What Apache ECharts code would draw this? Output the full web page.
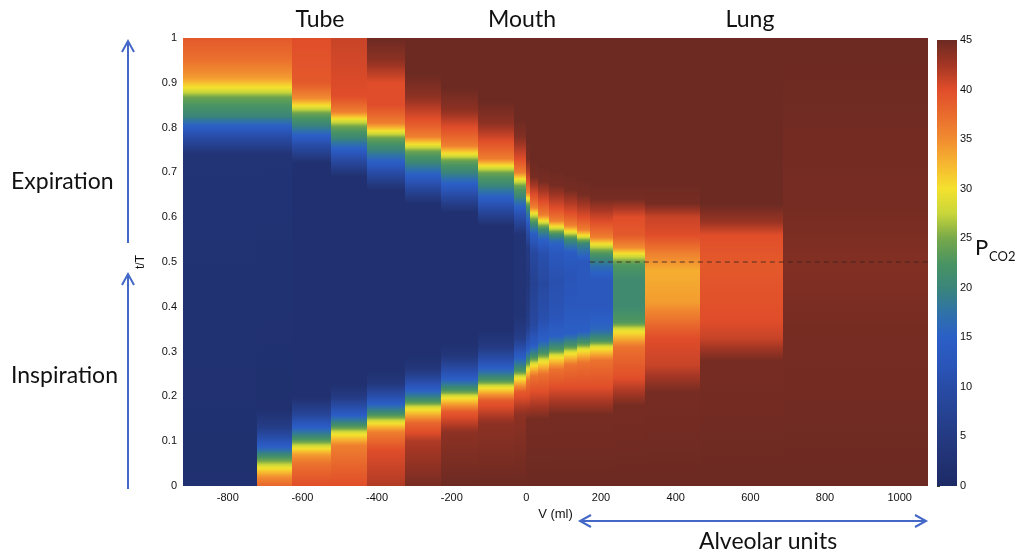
<!DOCTYPE html>
<html>
<head>
<meta charset="utf-8">
<script src="https://cdn.jsdelivr.net/npm/echarts@6/dist/echarts.min.js"></script>
<style>
html,body{margin:0;padding:0;background:#fff;}
#c{width:1027px;height:556px;}
</style>
</head>
<body>
<div id="c"></div>
<script>
// ---- DATA ----
// Column boundaries along V (ml)
const vEdges = [-920, -722, -628, -523, -427, -325, -228, -130, -32, 0, 10, 30, 60, 100, 135, 170, 231, 317, 464, 687, 1076];
// Vertical P_CO2 profile of every column: [t/T, PCO2] stops
const profiles = [
  [[0,2],[0.74,3],[0.79,12],[0.825,20],[0.865,24],[0.885,29],[0.91,34],[0.95,37],[1,39]],
  [[0,38],[0.02,35],[0.043,29],[0.065,22],[0.09,14],[0.13,6],[0.17,2],[0.74,3],[0.79,12],[0.825,20],[0.865,24],[0.885,29],[0.91,34],[0.95,37],[1,39]],
  [[0,40],[0.05,37],[0.07,34],[0.087,29],[0.105,22],[0.13,15],[0.16,8],[0.2,2],[0.72,2],[0.77,12],[0.8,19],[0.83,24],[0.846,29],[0.865,35],[0.9,39],[1,40]],
  [[0,40],[0.09,36],[0.118,29],[0.135,22],[0.16,14],[0.2,5],[0.23,2],[0.69,2],[0.74,12],[0.775,20],[0.8,24],[0.817,29],[0.835,36],[0.87,40],[1,41]],
  [[0,42],[0.08,40],[0.12,36],[0.143,29],[0.16,22],[0.19,13],[0.23,4],[0.26,2],[0.66,2],[0.71,12],[0.75,20],[0.775,24],[0.79,29],[0.81,36],[0.85,40],[0.9,40],[0.95,43.5],[1,45]],
  [[0,44.5],[0.1,42],[0.14,38],[0.174,29],[0.19,22],[0.22,13],[0.26,4],[0.29,2],[0.63,2],[0.68,12],[0.72,20],[0.745,24],[0.76,29],[0.78,36],[0.82,40],[0.87,43.5],[0.92,45],[1,45]],
  [[0,45],[0.12,43.5],[0.165,39],[0.199,29],[0.215,22],[0.245,13],[0.29,4],[0.32,2],[0.61,2],[0.66,12],[0.7,20],[0.725,24],[0.739,29],[0.76,36],[0.8,40],[0.84,43.5],[0.89,45],[1,45]],
  [[0,45],[0.14,43.5],[0.19,39],[0.221,29],[0.237,22],[0.27,13],[0.31,5],[0.35,2],[0.58,2],[0.63,12],[0.67,20],[0.697,24],[0.712,29],[0.73,36],[0.77,40],[0.81,43.5],[0.86,45],[1,45]],
  [[0,45],[0.16,43.5],[0.21,39],[0.243,29],[0.258,22],[0.29,14],[0.33,6],[0.38,3],[0.56,3],[0.61,12],[0.645,20],[0.668,24],[0.683,29],[0.7,36],[0.73,40],[0.78,44],[0.82,45],[1,45]],
  [[0,45],[0.15,44.5],[0.2,40],[0.235,37],[0.262,29],[0.278,22],[0.31,13],[0.36,6],[0.45,4],[0.53,5],[0.58,12],[0.615,20],[0.628,24],[0.64,29],[0.655,36],[0.68,40],[0.73,44.5],[0.78,45],[1,45]],
  [[0,45],[0.15,44.5],[0.21,40],[0.245,37],[0.272,29],[0.288,22],[0.315,14],[0.36,9],[0.45,7],[0.52,9],[0.56,14],[0.585,21],[0.607,29],[0.622,36],[0.65,40],[0.69,44.5],[0.73,45],[1,45]],
  [[0,45],[0.15,44.5],[0.21,40],[0.25,37],[0.28,29],[0.297,22],[0.325,15],[0.37,11],[0.45,9],[0.52,11],[0.55,15],[0.572,21],[0.59,29],[0.605,36],[0.635,40],[0.68,44.5],[0.72,45],[1,45]],
  [[0,45],[0.16,44.5],[0.22,40],[0.26,37],[0.29,29],[0.306,22],[0.335,15],[0.38,12],[0.46,11],[0.52,13],[0.545,16],[0.56,21],[0.577,29],[0.592,36],[0.62,40],[0.67,44.5],[0.71,45],[1,45]],
  [[0,45],[0.16,44.5],[0.22,40],[0.27,37],[0.298,29],[0.314,22],[0.34,15],[0.4,13],[0.47,12],[0.52,14],[0.55,21],[0.566,29],[0.582,36],[0.61,40],[0.66,44.5],[0.7,45],[1,45]],
  [[0,45],[0.16,44.5],[0.22,40],[0.275,37],[0.305,29],[0.32,22],[0.345,15],[0.4,13],[0.5,13],[0.54,20],[0.557,29],[0.572,36],[0.6,40],[0.65,44.5],[0.69,45],[1,45]],
  [[0,45],[0.16,44.5],[0.22,40],[0.28,37],[0.31,29],[0.325,22],[0.35,16],[0.4,13],[0.46,13],[0.49,17],[0.52,23],[0.538,29],[0.555,36],[0.59,40],[0.64,44.5],[0.68,45],[1,45]],
  [[0,45],[0.18,44.5],[0.24,40],[0.31,37],[0.348,29],[0.365,23],[0.4,21],[0.46,21],[0.495,23],[0.516,29],[0.532,35],[0.56,39],[0.6,40],[0.64,44.5],[0.68,45],[1,45]],
  [[0,45],[0.21,44.5],[0.27,41],[0.33,40],[0.37,37],[0.41,34],[0.48,33],[0.52,36],[0.56,40],[0.6,41],[0.63,44.5],[0.68,45],[1,45]],
  [[0,45],[0.28,44.5],[0.33,41],[0.37,40],[0.5,39],[0.56,40],[0.59,43],[0.63,45],[1,45]],
  [[0,45],[0.35,44.5],[0.5,44],[0.62,44.5],[1,45]]
];
// Colour scale (P_CO2 levels and their colours)
const pco2Levels = [0,2.5,5,7.5,10,12.5,15,17.5,20,22.5,25,27.5,30,32.5,35,37.5,40,42.5,45];
const pco2Colors = ['#1c2a66','#213272','#243a82','#264394','#284ca6','#2a56bb','#2b5fc6','#2f72a8','#3a857a','#4a9462','#77a84a','#c9d63a','#f4e12e','#f6b630','#f18c30','#e96b2d','#e04d2a','#a33624','#6c2a22'];
// Axis ticks
const xTicks = [-800,-600,-400,-200,0,200,400,600,800,1000];
const cbTicks = [0,5,10,15,20,25,30,35,40,45];
// Dashed reference line at t/T = 0.5
const dashLine = [[170,0.5],[1076,0.5]];

// ---- helpers ----
function hexToRgb(h){return [parseInt(h.substr(1,2),16),parseInt(h.substr(3,2),16),parseInt(h.substr(5,2),16)];}
const rgbs = pco2Colors.map(hexToRgb);
function colorOf(v){
  const lo = pco2Levels[0], hi = pco2Levels[pco2Levels.length-1];
  v = Math.max(lo, Math.min(hi, v));
  let i = 0;
  while (i < pco2Levels.length-2 && v > pco2Levels[i+1]) i++;
  const f = (v - pco2Levels[i])/(pco2Levels[i+1]-pco2Levels[i]);
  const a = rgbs[i], b = rgbs[i+1];
  const c = a.map((x,k)=>Math.round(x + (b[k]-x)*f));
  return 'rgb('+c.join(',')+')';
}
function gradStops(vTop, vBot){
  const n = 10, s = [];
  for (let k=0;k<=n;k++){ s.push({offset:k/n, color: colorOf(vTop + (vBot-vTop)*k/n)}); }
  return s;
}

// Build cell segments
const cells = [];
for (let i=0;i<profiles.length;i++){
  const p = profiles[i];
  for (let j=0;j<p.length-1;j++){
    cells.push([vEdges[i], vEdges[i+1], p[j][0], p[j+1][0], p[j][1], p[j+1][1]]);
  }
}
const cbCells = [];
for (let i=0;i<pco2Levels.length-1;i++) cbCells.push([pco2Levels[i], pco2Levels[i+1]]);

const chart = echarts.init(document.getElementById('c'), null, {renderer:'canvas'});
const axisFont = {fontFamily:'Liberation Sans, Arial, sans-serif', fontSize:11, color:'#111'};
const blue = '#4468c8';
const option = {
  animation:false,
  grid:[
    {left:183, right:99, top:38, bottom:70, outerBoundsMode:'none'},
    {left:937, width:20, top:40, height:446, outerBoundsMode:'none'}
  ],
  xAxis:[
    {type:'value', gridIndex:0, min:-920, max:1076,
     axisLine:{show:false}, axisTick:{show:false}, splitLine:{show:false},
     axisLabel:Object.assign({margin:6, customValues:xTicks, formatter:function(v){return String(v);}}, axisFont),
     name:'V (ml)', nameLocation:'middle', nameGap:22,
     nameTextStyle:{fontFamily:'Liberation Sans, Arial, sans-serif', fontSize:13, color:'#111'}},
    {type:'value', gridIndex:1, min:0, max:1, show:false}
  ],
  yAxis:[
    {type:'value', gridIndex:0, min:0, max:1, interval:0.1,
     axisLine:{show:false}, axisTick:{show:false}, splitLine:{show:false},
     axisLabel:Object.assign({margin:6}, axisFont),
     name:'t/T', nameLocation:'middle', nameRotate:90, nameGap:36,
     nameTextStyle:{fontFamily:'Liberation Sans, Arial, sans-serif', fontSize:12, color:'#111'}},
    {type:'value', gridIndex:1, min:0, max:45, interval:5, position:'right',
     axisLine:{show:false}, splitLine:{show:false},
     axisTick:{show:true, length:3, lineStyle:{color:'#333'}, customValues:cbTicks},
     axisLabel:Object.assign({margin:3, customValues:cbTicks}, axisFont)}
  ],
  series:[
    {
      type:'custom', xAxisIndex:0, yAxisIndex:0,
      dimensions:['x0','x1','t0','t1','v0','v1'],
      encode:{x:[0,1], y:[2,3]},
      data:cells,
      clip:true,
      silent:true,
      renderItem:function(params, api){
        const x0=api.value(0), x1=api.value(1), t0=api.value(2), t1=api.value(3), v0=api.value(4), v1=api.value(5);
        const a = api.coord([x0, t1]), b = api.coord([x1, t0]);
        const X0=Math.round(a[0]), X1=Math.round(b[0]), Y0=Math.round(a[1]), Y1=Math.round(b[1]);
        return {
          type:'rect',
          shape:{x:X0, y:Y0, width:X1-X0, height:Math.max(Y1-Y0,0)},
          style:{fill:new echarts.graphic.LinearGradient(0, a[1], 0, b[1], gradStops(v1, v0), true), lineWidth:0}
        };
      }
    },
    {
      type:'line', xAxisIndex:0, yAxisIndex:0, data:dashLine, symbol:'none', silent:true, z:5,
      lineStyle:{color:'#3b2420', width:1.2, type:[5,4], opacity:0.85}
    },
    {
      type:'custom', xAxisIndex:1, yAxisIndex:1,
      data:cbCells, silent:true,
      encode:{y:[0,1]},
      renderItem:function(params, api){
        const v0=api.value(0), v1=api.value(1);
        const a = api.coord([0, v1]), b = api.coord([1, v0]);
        const Y0=Math.round(a[1]), Y1=Math.round(b[1]);
        return {
          type:'rect',
          shape:{x:Math.round(a[0]), y:Y0, width:Math.round(b[0])-Math.round(a[0]), height:Y1-Y0},
          style:{fill:new echarts.graphic.LinearGradient(0, a[1], 0, b[1], gradStops(v1, v0), true), lineWidth:0}
        };
      }
    }
  ],
  graphic:[
    {type:'text', x:320, y:20, style:{text:'Tube', font:'23px Lato, sans-serif', fill:'#111', align:'center', verticalAlign:'middle'}},
    {type:'text', x:522, y:20, style:{text:'Mouth', font:'23px Lato, sans-serif', fill:'#111', align:'center', verticalAlign:'middle'}},
    {type:'text', x:750, y:20, style:{text:'Lung', font:'23px Lato, sans-serif', fill:'#111', align:'center', verticalAlign:'middle'}},
    {type:'text', x:11, y:182, style:{text:'Expiration', font:'23px Lato, sans-serif', fill:'#111', align:'left', verticalAlign:'middle'}},
    {type:'text', x:11, y:376, style:{text:'Inspiration', font:'23px Lato, sans-serif', fill:'#111', align:'left', verticalAlign:'middle'}},
    {type:'line', shape:{x1:128,y1:243,x2:128,y2:42}, style:{stroke:blue, lineWidth:2}},
    {type:'polyline', shape:{points:[[122,52],[128,41],[134,52]]}, style:{stroke:blue, lineWidth:2, fill:null}},
    {type:'line', shape:{x1:128,y1:489,x2:128,y2:275}, style:{stroke:blue, lineWidth:2}},
    {type:'polyline', shape:{points:[[122,285],[128,274],[134,285]]}, style:{stroke:blue, lineWidth:2, fill:null}},
    {type:'line', shape:{x1:581,y1:521,x2:925,y2:521}, style:{stroke:blue, lineWidth:2}},
    {type:'polyline', shape:{points:[[591,515],[580,521],[591,527]]}, style:{stroke:blue, lineWidth:2, fill:null}},
    {type:'polyline', shape:{points:[[915,515],[926,521],[915,527]]}, style:{stroke:blue, lineWidth:2, fill:null}},
    {type:'text', x:768, y:542, style:{text:'Alveolar units', font:'23px Lato, sans-serif', fill:'#111', align:'center', verticalAlign:'middle'}},
    {type:'text', x:975, y:248, style:{text:'P', font:'22px Lato, sans-serif', fill:'#111', align:'left', verticalAlign:'middle'}},
    {type:'text', x:989, y:257, style:{text:'CO2', font:'13px Lato, sans-serif', fill:'#111', align:'left', verticalAlign:'middle'}}
  ]
};
chart.setOption(option);
</script>
</body>
</html>
